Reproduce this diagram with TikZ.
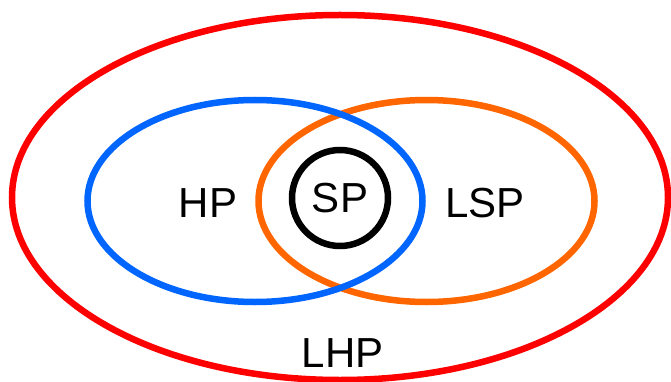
\documentclass[tikz,border=0pt]{standalone}
\usepackage{fontspec}
\setmainfont{Liberation Sans}
\definecolor{setred}{HTML}{FF0000}
\definecolor{setblue}{HTML}{0066FF}
\definecolor{setorange}{HTML}{FF6600}
\tikzset{
  setline/.style={line width=6.5pt},
  setlabel/.style={anchor=base, inner sep=0pt, font=\fontsize{42}{42}\selectfont, text=black}
}
\begin{document}
\begin{tikzpicture}[x=1pt, y=-1pt]
  \useasboundingbox (0,0) rectangle (671,382);
  % outer class
  \draw[setline, setred] (340,197.5) ellipse [x radius=328, y radius=182.5];
  % two overlapping classes
  \draw[setline, setorange] (426.5,201) ellipse [x radius=168, y radius=101];
  \draw[setline, setblue] (255,201) ellipse [x radius=167.5, y radius=101];
  % innermost class
  \draw[setline, black] (340,198) circle [radius=48];
  % labels
  \node[setlabel] (hp) at (208,217) {HP};
  \node[setlabel] (sp) at (340,212) {SP};
  \node[setlabel] (lsp) at (485,217) {LSP};
  \node[setlabel] (lhp) at (342.5,367) {LHP};
\end{tikzpicture}
\end{document}
